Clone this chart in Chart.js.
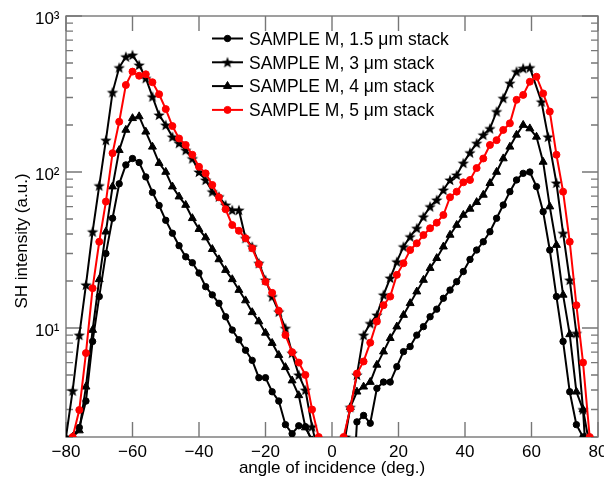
<!DOCTYPE html>
<html>
<head>
<meta charset="utf-8">
<script src="https://cdn.jsdelivr.net/npm/chart.js@4"></script>
<style>
  html, body { margin: 0; padding: 0; background: #fff; }
</style>
</head>
<body>
<canvas id="chart" width="604" height="483"></canvas>
<script>
const FONT = "'Liberation Sans', Arial, Helvetica, sans-serif";
Chart.defaults.font.family = FONT;
Chart.defaults.font.size = 17;
Chart.defaults.color = '#000';

// axis ticks
const xTicks = [-80, -60, -40, -20, 0, 20, 40, 60, 80];
const yMajor = [10, 100, 1000];
const yMinor = [2, 3, 4, 5, 6, 7, 8, 9, 20, 30, 40, 50, 60, 70, 80, 90, 200, 300, 400, 500, 600, 700, 800, 900];
const yLabels = { 10: '10\u00b9', 100: '10\u00b2', 1000: '10\u00b3' };
const xTitle = 'angle of incidence (deg.)';
const yTitle = 'SH intensity (a.u.)';

const seriesNames = [
  'SAMPLE M, 1.5 \u03bcm stack',
  'SAMPLE M, 3 \u03bcm stack',
  'SAMPLE M, 4 \u03bcm stack',
  'SAMPLE M, 5 \u03bcm stack'
];

// 1.5 um stack (circles)
const angle15L = [-78, -76, -74, -72, -70, -68, -66, -64, -62, -60, -58, -56, -54, -52, -50, -48, -46, -44, -42, -40, -38, -36, -34, -32, -30, -28, -26, -24, -22, -20, -18, -16, -14, -12, -10, -8, -6];
const sh15L = [2.0, 2.3, 3.4, 8.2, 15.9, 30, 50.5, 84, 111, 122, 115, 93, 74, 61, 49, 40.5, 33.7, 28.6, 26.2, 22.5, 18.4, 16.3, 14.4, 11.8, 9.7, 8.4, 7.2, 6.2, 4.8, 4.8, 3.9, 3.4, 2.4, 2.1, 2.36, 2.33, 1.9];
const angle15R = [7, 7.5, 9.5, 11.5, 13.5, 15.5, 17.5, 19.5, 21.5, 23.5, 25.5, 27.5, 29.5, 31.5, 33.5, 35.5, 37.5, 39.5, 41.5, 43.5, 45.5, 47.5, 49.5, 51.5, 53.5, 55.5, 57.5, 59.5, 61.5, 63.5, 65.5, 67.5, 69.5, 71.5, 73.5, 75.5];
const sh15R = [1.6, 2.5, 2.75, 2.45, 4.1, 4.5, 4.5, 5.65, 7.05, 7.6, 9.0, 10.2, 11.8, 13.2, 15.5, 17.5, 19.8, 23, 27.5, 31.6, 35.7, 41.4, 50.5, 61.4, 74.8, 88.9, 98, 100, 80.6, 55.7, 31.6, 15.9, 8.2, 3.9, 2.4, 2.0];

// 3 um stack (stars)
const angle3L = [-80, -78, -76, -74, -72, -70, -68, -66, -64, -62, -60, -58, -56, -54, -52, -50, -48, -46, -44, -42, -40, -38, -36, -34, -32, -30, -28, -26, -24, -22, -20, -18, -16, -14, -12, -10, -8, -6, -5];
const sh3L = [2.0, 3.96, 9.0, 18.9, 41.4, 81.7, 160, 324, 467, 548, 562, 485, 399, 304, 232, 200, 168, 153, 138, 122, 100, 88.9, 74.8, 69.5, 61.4, 57, 57, 37.6, 33.2, 26, 20.3, 15.9, 12.7, 9.96, 6.9, 5.0, 4.0, 2.33, 1.9];
const angle3R = [4, 5.5, 7.5, 9.5, 11.5, 13.5, 15.5, 17.5, 19.5, 21.5, 23.5, 25.5, 27.5, 29.5, 31.5, 33.5, 35.5, 37.5, 39.5, 41.5, 43.5, 45.5, 47.5, 49.5, 51.5, 53.5, 55.5, 57.5, 59.5, 63, 65, 67.5, 69.5, 71.5, 73.5, 75.5, 77];
const sh3R = [2.0, 3.1, 5.0, 9.0, 10.7, 12.1, 16.3, 20.9, 26.6, 33.2, 38.5, 43.6, 51.6, 60, 66.2, 76.7, 88.9, 95.7, 114, 133, 153, 173, 190, 244, 297, 371, 440, 462, 467, 282, 168, 85, 40.5, 20.3, 9.25, 3.0, 2.0];

// 4 um stack (triangles)
const angle4L = [-78, -76, -74, -72, -70, -68, -66, -64, -62, -60, -58, -56, -54, -52, -50, -48, -46, -44, -42, -40, -38, -36, -34, -32, -30, -28, -26, -24, -22, -20, -18, -16, -14, -12, -10, -8, -6];
const sh4L = [2.0, 2.2, 4.2, 9.7, 20.5, 41.4, 80.6, 138, 186, 221, 227, 181, 145, 114, 100, 80.6, 69.5, 61.4, 50.5, 43, 38, 32, 27.5, 23.5, 20.5, 17.5, 15, 12.6, 11, 9.3, 8, 6.7, 5.6, 4.6, 3.7, 2.3, 1.9];
const angle4R = [3.5, 5.5, 7.5, 9.5, 11.5, 13.5, 15.5, 17.5, 19.5, 21.5, 23.5, 25.5, 27.5, 29.5, 31.5, 33.5, 35.5, 37.5, 39.5, 41.5, 43.5, 45.5, 47.5, 49.5, 51.5, 53.5, 55.5, 57.5, 59.5, 61.5, 63.5, 65.5, 67.5, 69.5, 71.5, 73.5, 75.5, 76];
const sh4R = [1.9, 3.1, 3.9, 4.2, 4.5, 5.8, 7.05, 8.6, 10.2, 12.1, 14.4, 17.1, 20.3, 24.2, 28, 33.2, 39.5, 45.7, 53, 58, 64, 71.3, 84.8, 100, 122, 145, 173, 200, 190, 168, 116, 60, 34, 16.3, 9.1, 3.9, 3.0, 2.0];

// 5 um stack (red circles)
const angle5L = [-78, -76, -74, -72, -70, -68, -66, -64, -62, -60, -58, -56, -54, -52, -50, -48, -46, -44, -42, -40, -38, -36, -34, -32, -30, -28, -26, -24, -22, -20, -18, -16, -14, -12, -10, -8, -6, -4];
const sh5L = [2.0, 2.98, 6.9, 18, 35.7, 64.6, 132, 210, 361, 440, 414, 423, 376, 315, 253, 197, 164, 149, 129, 108, 98, 82.6, 68.8, 57.7, 45.7, 42, 37.6, 32.4, 25.7, 19.8, 16.8, 12.9, 9.0, 7.0, 6.0, 5.0, 3.0, 2.0];
const angle5R = [3.5, 5.5, 7.5, 9.5, 11.5, 13.5, 15.5, 17.5, 19.5, 21.5, 23.5, 25.5, 27.5, 29.5, 31.5, 33.5, 35.5, 37.5, 39.5, 41.5, 43.5, 45.5, 47.5, 49.5, 51.5, 53.5, 55.5, 57.5, 59.5, 61.5, 63.5, 65.5, 67.5, 69.5, 71.5, 73.5, 75.5, 77.5];
const sh5R = [2.0, 3.05, 5.1, 6.1, 8.05, 11.0, 14.0, 15.9, 21.9, 26, 31.6, 34.9, 39.4, 43.6, 47.3, 53, 68.9, 74.8, 85.9, 88.9, 106, 122, 149, 160, 186, 205, 290, 312, 379, 408, 319, 244, 129, 74.8, 35.7, 14, 6.0, 2.0];

// left and right branches are separate curves
function points(aL, vL, aR, vR) {
  const left = aL.map((a, i) => ({ x: a, y: vL[i] }));
  const right = aR.map((a, i) => ({ x: a, y: vR[i] }));
  return left.concat([{ x: 0, y: null }], right);
}

function starImage(r, color) {
  const c = document.createElement('canvas');
  const s = Math.ceil(r * 2 + 2);
  c.width = s; c.height = s;
  const g = c.getContext('2d');
  g.fillStyle = color;
  g.beginPath();
  for (let i = 0; i < 10; i++) {
    const rad = i % 2 ? r * 0.42 : r;
    const a = -Math.PI / 2 + i * Math.PI / 5;
    const px = s / 2 + rad * Math.cos(a), py = s / 2 + rad * Math.sin(a) + 0.5;
    if (i) g.lineTo(px, py); else g.moveTo(px, py);
  }
  g.closePath();
  g.fill();
  return c;
}
const star = starImage(6, '#000');

function series(label, data, color, style, radius, order) {
  return {
    label: label,
    data: data,
    borderColor: color,
    backgroundColor: color,
    pointBackgroundColor: color,
    pointBorderColor: color,
    borderWidth: 2,
    pointBorderWidth: 1,
    pointStyle: style,
    pointRadius: radius,
    tension: 0,
    spanGaps: false,
    order: order
  };
}

const datasets = [
  series(seriesNames[0], points(angle15L, sh15L, angle15R, sh15R), '#000', 'circle', 3.2, 1),
  series(seriesNames[1], points(angle3L, sh3L, angle3R, sh3R), '#000', star, 5, 1),
  series(seriesNames[2], points(angle4L, sh4L, angle4R, sh4R), '#000', 'triangle', 4.6, 1),
  series(seriesNames[3], points(angle5L, sh5L, angle5R, sh5R), '#ff0000', 'circle', 3.5, 0)
];

function drawMarker(ctx, ds, x, y) {
  if (ds.pointStyle instanceof HTMLCanvasElement) {
    ctx.drawImage(ds.pointStyle, x - ds.pointStyle.width / 2, y - ds.pointStyle.height / 2);
    return;
  }
  ctx.fillStyle = ds.pointBackgroundColor;
  ctx.strokeStyle = ds.pointBorderColor;
  ctx.lineWidth = ds.pointBorderWidth;
  Chart.helpers.drawPoint(ctx, { pointStyle: ds.pointStyle, radius: ds.pointRadius, rotation: 0, borderWidth: ds.pointBorderWidth }, x, y);
}

// inward ticks, box around the plot, rotated y title
const axisFrame = {
  id: 'axisFrame',
  beforeDatasetsDraw(chart) {
    const { ctx, chartArea: a, scales } = chart;
    const xs = scales.x, ys = scales.y;
    ctx.save();
    ctx.strokeStyle = '#777';
    ctx.lineWidth = 1.4;
    ctx.strokeRect(a.left, a.top, a.right - a.left, a.bottom - a.top);
    ctx.beginPath();
    xTicks.forEach(v => {
      const px = xs.getPixelForValue(v);
      ctx.moveTo(px, a.bottom); ctx.lineTo(px, a.bottom - 15);
      ctx.moveTo(px, a.top); ctx.lineTo(px, a.top + 15);
    });
    yMajor.forEach(v => {
      const py = ys.getPixelForValue(v);
      ctx.moveTo(a.left, py); ctx.lineTo(a.left + 16, py);
      ctx.moveTo(a.right, py); ctx.lineTo(a.right - 16, py);
    });
    yMinor.forEach(v => {
      const py = ys.getPixelForValue(v);
      ctx.moveTo(a.left, py); ctx.lineTo(a.left + 7, py);
      ctx.moveTo(a.right, py); ctx.lineTo(a.right - 7, py);
    });
    ctx.stroke();

    ctx.translate(22, 241);
    ctx.rotate(-Math.PI / 2);
    ctx.font = '17px ' + FONT;
    ctx.fillStyle = '#000';
    ctx.textAlign = 'center';
    ctx.textBaseline = 'middle';
    ctx.fillText(yTitle, 0, 0);
    ctx.restore();
  }
};

// legend with line + marker samples
const lineLegend = {
  id: 'lineLegend',
  afterDraw(chart) {
    const ctx = chart.ctx;
    ctx.save();
    ctx.font = '17.5px ' + FONT;
    ctx.textBaseline = 'alphabetic';
    ctx.textAlign = 'left';
    chart.data.datasets.forEach((ds, i) => {
      const y = 38.5 + i * 23.8;
      ctx.strokeStyle = ds.borderColor;
      ctx.lineWidth = 2;
      ctx.beginPath();
      ctx.moveTo(212, y); ctx.lineTo(243, y);
      ctx.stroke();
      drawMarker(ctx, ds, 227.5, y);
      ctx.fillStyle = '#000';
      ctx.fillText(ds.label, 249, y + 6.3);
    });
    ctx.restore();
  }
};

new Chart(document.getElementById('chart'), {
  type: 'line',
  data: { datasets: datasets },
  options: {
    responsive: false,
    animation: false,
    layout: { padding: { left: 0, right: 5, top: 16, bottom: 0 } },
    plugins: { legend: { display: false }, tooltip: { enabled: false } },
    scales: {
      x: {
        type: 'linear',
        min: -80,
        max: 80,
        grid: { display: false, drawTicks: false },
        border: { display: false },
        afterBuildTicks: s => { s.ticks = xTicks.map(v => ({ value: v })); },
        afterFit: s => { s.paddingLeft = 0; s.paddingRight = 0; s.height = 46; },
        ticks: {
          padding: 6.5,
          maxRotation: 0,
          autoSkip: false,
          font: { size: 17, lineHeight: 1 },
          callback: v => (v < 0 ? '\u2212' + Math.abs(v) : String(v))
        },
        title: {
          display: true,
          text: xTitle,
          font: { size: 17, lineHeight: 1 },
          padding: { top: 0, bottom: 6 }
        }
      },
      y: {
        type: 'logarithmic',
        min: 2,
        max: 1000,
        grid: { display: false, drawTicks: false },
        border: { display: false },
        afterBuildTicks: s => { s.ticks = yMajor.map(v => ({ value: v })); },
        afterFit: s => { s.paddingTop = 0; s.paddingBottom = 0; s.width = 66; },
        ticks: {
          padding: 6.5,
          autoSkip: false,
          labelOffset: 3,
          font: { size: 17, lineHeight: 1 },
          callback: v => yLabels[v] || ''
        },
        title: { display: false }
      }
    }
  },
  plugins: [axisFrame, lineLegend]
});
</script>
</body>
</html>
